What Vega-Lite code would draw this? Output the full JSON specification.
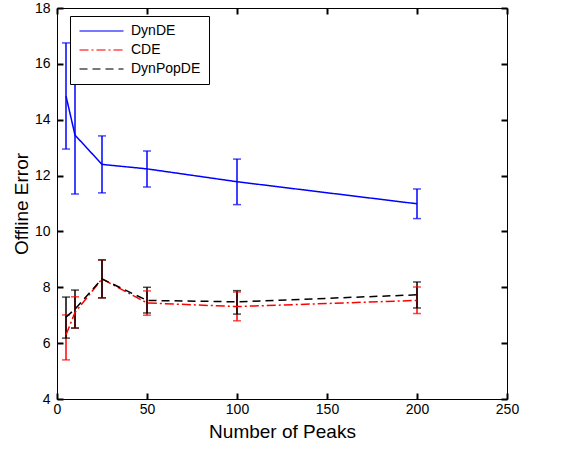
{
  "$schema": "https://vega.github.io/schema/vega-lite/v6.json",
  "width": 450,
  "height": 391,
  "autosize": "none",
  "padding": {"left": 57, "top": 8, "right": 68, "bottom": 51},
  "background": "white",
  "config": {
    "view": {"stroke": "#000"},
    "axis": {"grid": false}
  },
  "resolve": {"axis": {"x": "independent", "y": "independent"}},
  "data": {
    "values": [
      {"series": "DynDE", "x": 5, "m": 14.85, "lo": 12.95, "hi": 16.75},
      {"series": "DynDE", "x": 10, "m": 13.45, "lo": 11.34, "hi": 15.56},
      {"series": "DynDE", "x": 25, "m": 12.4, "lo": 11.38, "hi": 13.42},
      {"series": "DynDE", "x": 50, "m": 12.24, "lo": 11.59, "hi": 12.88},
      {"series": "DynDE", "x": 100, "m": 11.78, "lo": 10.96, "hi": 12.59},
      {"series": "DynDE", "x": 200, "m": 10.99, "lo": 10.46, "hi": 11.52},
      {"series": "CDE", "x": 5, "m": 6.3, "lo": 5.4, "hi": 7.01},
      {"series": "CDE", "x": 10, "m": 7.1, "lo": 6.54, "hi": 7.66},
      {"series": "CDE", "x": 25, "m": 8.3, "lo": 7.62, "hi": 8.98},
      {"series": "CDE", "x": 50, "m": 7.44, "lo": 7.0, "hi": 7.87},
      {"series": "CDE", "x": 100, "m": 7.31, "lo": 6.8, "hi": 7.83},
      {"series": "CDE", "x": 200, "m": 7.53, "lo": 7.06, "hi": 8.01},
      {"series": "DynPopDE", "x": 5, "m": 6.93, "lo": 6.18, "hi": 7.65},
      {"series": "DynPopDE", "x": 10, "m": 7.22, "lo": 6.54, "hi": 7.9},
      {"series": "DynPopDE", "x": 25, "m": 8.3, "lo": 7.62, "hi": 8.98},
      {"series": "DynPopDE", "x": 50, "m": 7.53, "lo": 7.08, "hi": 8.0},
      {"series": "DynPopDE", "x": 100, "m": 7.48, "lo": 7.04, "hi": 7.88},
      {"series": "DynPopDE", "x": 200, "m": 7.73, "lo": 7.26, "hi": 8.19}
    ]
  },
  "encoding": {
    "color": {
      "field": "series", "type": "nominal",
      "scale": {"domain": ["DynDE", "CDE", "DynPopDE"], "range": ["#0000ff", "#ff0000", "#000000"]},
      "legend": {
        "title": null,
        "orient": "none",
        "legendX": 13,
        "legendY": 8,
        "symbolType": "M-1,0L7,0",
        "symbolSize": 121,
        "symbolStrokeWidth": 1.5,
        "labelFontSize": 14,
        "labelFont": "Liberation Sans",
        "labelColor": "#000",
        "strokeColor": "#000",
        "fillColor": "#fff",
        "padding": 8,
        "rowPadding": 5,
        "labelOffset": 39
      }
    }
  },
  "layer": [
    {
      "mark": {"type": "rule", "strokeWidth": 1.5},
      "encoding": {
        "x": {
          "field": "x", "type": "quantitative",
          "scale": {"domain": [0, 250], "nice": false},
          "axis": {"title": "Number of Peaks", "tickCount": 5, "orient": "bottom", "tickSize": -6, "tickColor": "black", "tickWidth": 2, "domainColor": "black", "labelColor": "black", "titleColor": "black", "labelFont": "Liberation Sans", "titleFont": "Liberation Sans", "labelFontSize": 14, "titleFontSize": 19, "titleFontWeight": "normal", "labelFlush": false, "labelPadding": 9, "titlePadding": 6}
        },
        "y": {
          "field": "lo", "type": "quantitative",
          "scale": {"domain": [4, 18], "nice": false},
          "axis": {"title": "Offline Error", "tickCount": 7, "orient": "left", "tickSize": -6, "tickColor": "black", "tickWidth": 2, "domainColor": "black", "labelColor": "black", "titleColor": "black", "labelFont": "Liberation Sans", "titleFont": "Liberation Sans", "labelFontSize": 14, "titleFontSize": 19, "titleFontWeight": "normal", "labelFlush": false, "labelPadding": 13, "titlePadding": 3}
        },
        "y2": {"field": "hi"}
      }
    },
    {
      "mark": {"type": "tick", "orient": "horizontal", "size": 8, "thickness": 1.5},
      "encoding": {
        "x": {
          "field": "x", "type": "quantitative",
          "axis": {"title": null, "tickCount": 5, "orient": "top", "labels": false, "domain": false, "tickSize": -6, "tickColor": "black", "tickWidth": 2}
        },
        "y": {
          "field": "lo", "type": "quantitative",
          "axis": {"title": null, "tickCount": 7, "orient": "right", "labels": false, "domain": false, "tickSize": -6, "tickColor": "black", "tickWidth": 2}
        }
      }
    },
    {
      "mark": {"type": "tick", "orient": "horizontal", "size": 8, "thickness": 1.5},
      "encoding": {
        "x": {"field": "x", "type": "quantitative", "axis": null},
        "y": {"field": "hi", "type": "quantitative", "axis": null}
      }
    },
    {
      "mark": {"type": "line", "strokeWidth": 1.5},
      "encoding": {
        "x": {"field": "x", "type": "quantitative", "axis": null},
        "y": {"field": "m", "type": "quantitative", "axis": null},
        "strokeDash": {
          "field": "series", "type": "nominal",
          "scale": {"domain": ["DynDE", "CDE", "DynPopDE"], "range": [[1, 0], [9, 3, 2, 3], [8, 5]]},
          "legend": {
            "title": null,
            "orient": "none",
            "legendX": 13,
            "legendY": 8,
            "symbolType": "M-1,0L7,0",
            "symbolSize": 121,
            "symbolStrokeWidth": 1.5,
            "labelFontSize": 14,
            "labelFont": "Liberation Sans",
            "labelColor": "#000",
            "strokeColor": "#000",
            "fillColor": "#fff",
            "padding": 8,
            "rowPadding": 5,
            "labelOffset": 39
          }
        }
      }
    }
  ]
}
